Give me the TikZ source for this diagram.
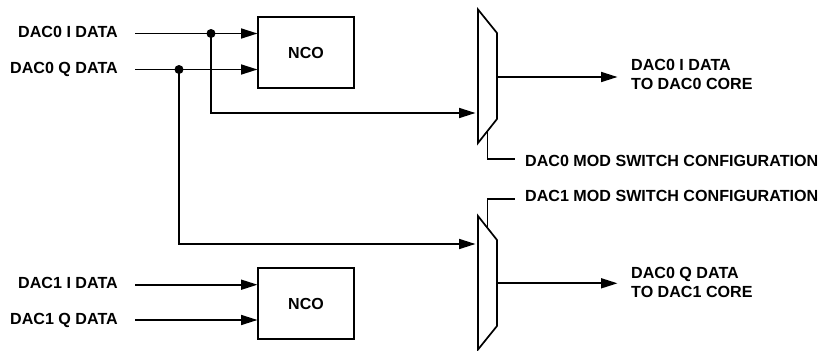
\documentclass[tikz,border=0pt]{standalone}
\usepackage{fontspec}
\setmainfont{Liberation Sans}
\usetikzlibrary{arrows.meta}
\tikzset{
  x=1pt,y=-1pt,
  wire/.style={line width=1.7pt,line join=miter},
  sig/.style={wire,-{Triangle[length=16.5pt,width=10pt]},shorten >=0.5pt},
  ncobox/.style={draw,line width=1.7pt,minimum width=96pt,minimum height=71pt,inner sep=0pt,font=\fontsize{16}{19}\selectfont\bfseries},
  lab/.style={font=\fontsize{16.1}{19}\selectfont\bfseries,inner sep=0pt,align=left},
  jdot/.style={circle,fill=black,inner sep=0pt,minimum size=9pt}
}
\begin{document}
\begin{tikzpicture}
\useasboundingbox (0,0) rectangle (820,351);
% NCO blocks
\node[ncobox] (ncoA) at (306,52.7) {NCO};
\node[ncobox] (ncoB) at (306,303.5) {NCO};
% left labels
\node[lab,anchor=base east] (li0) at (118,37.4) {DAC0 I DATA};
\node[lab,anchor=base east] (lq0) at (118,73) {DAC0 Q DATA};
\node[lab,anchor=base east] (li1) at (118,288.5) {DAC1 I DATA};
\node[lab,anchor=base east] (lq1) at (118,324.4) {DAC1 Q DATA};
% right labels
\node[lab,anchor=west] (out0) at (631,74.3) {DAC0 I DATA\\TO DAC0 CORE};
\node[lab,anchor=west] (out1) at (631,282) {DAC0 Q DATA\\TO DAC1 CORE};
\node[lab,anchor=base west] (cfg0) at (525,166.4) {DAC0 MOD SWITCH CONFIGURATION};
\node[lab,anchor=base west] (cfg1) at (525,201.7) {DAC1 MOD SWITCH CONFIGURATION};
% free ends
\coordinate (si0) at (135,33.5);
\coordinate (sq0) at (135,69.5);
\coordinate (si1) at (135,284.7);
\coordinate (sq1) at (135,320);
\coordinate (ai0) at (258,33.5);
\coordinate (aq0) at (258,69.5);
\coordinate (ai1) at (258,284.7);
\coordinate (aq1) at (258,320);
% muxes
\coordinate (m0a) at (478,9.5);
\coordinate (m0b) at (497,33);
\coordinate (m0c) at (497,119);
\coordinate (m0d) at (478,143);
\coordinate (m1a) at (478,216);
\coordinate (m1b) at (497,240);
\coordinate (m1c) at (497,326);
\coordinate (m1d) at (478,349.5);
\draw[wire] (m0a)--(m0b)--(m0c)--(m0d)--cycle;
\draw[wire] (m1a)--(m1b)--(m1c)--(m1d)--cycle;
% junctions
\node[jdot] (j0) at (211,33.5) {};
\node[jdot] (j1) at (179,69.5) {};
% connectors
\draw[sig] (si0)--(ai0);
\draw[sig] (sq0)--(aq0);
\draw[sig] (si1)--(ai1);
\draw[sig] (sq1)--(aq1);
\coordinate (m0in) at (476,113);
\coordinate (m1in) at (476,244);
\draw[sig] (j0.center)|-(m0in);
\draw[sig] (j1.center)|-(m1in);
\coordinate (o0s) at (497,77);
\coordinate (o0e) at (618,77);
\coordinate (o1s) at (497,283.3);
\coordinate (o1e) at (618,283.3);
\draw[sig] (o0s)--(o0e);
\draw[sig] (o1s)--(o1e);
\coordinate (c0s) at (487.5,131);
\coordinate (c0e) at (515,159);
\coordinate (c1s) at (487.5,228);
\coordinate (c1e) at (515,199);
\draw[wire] (c0s)|-(c0e);
\draw[wire] (c1s)|-(c1e);
\end{tikzpicture}
\end{document}
